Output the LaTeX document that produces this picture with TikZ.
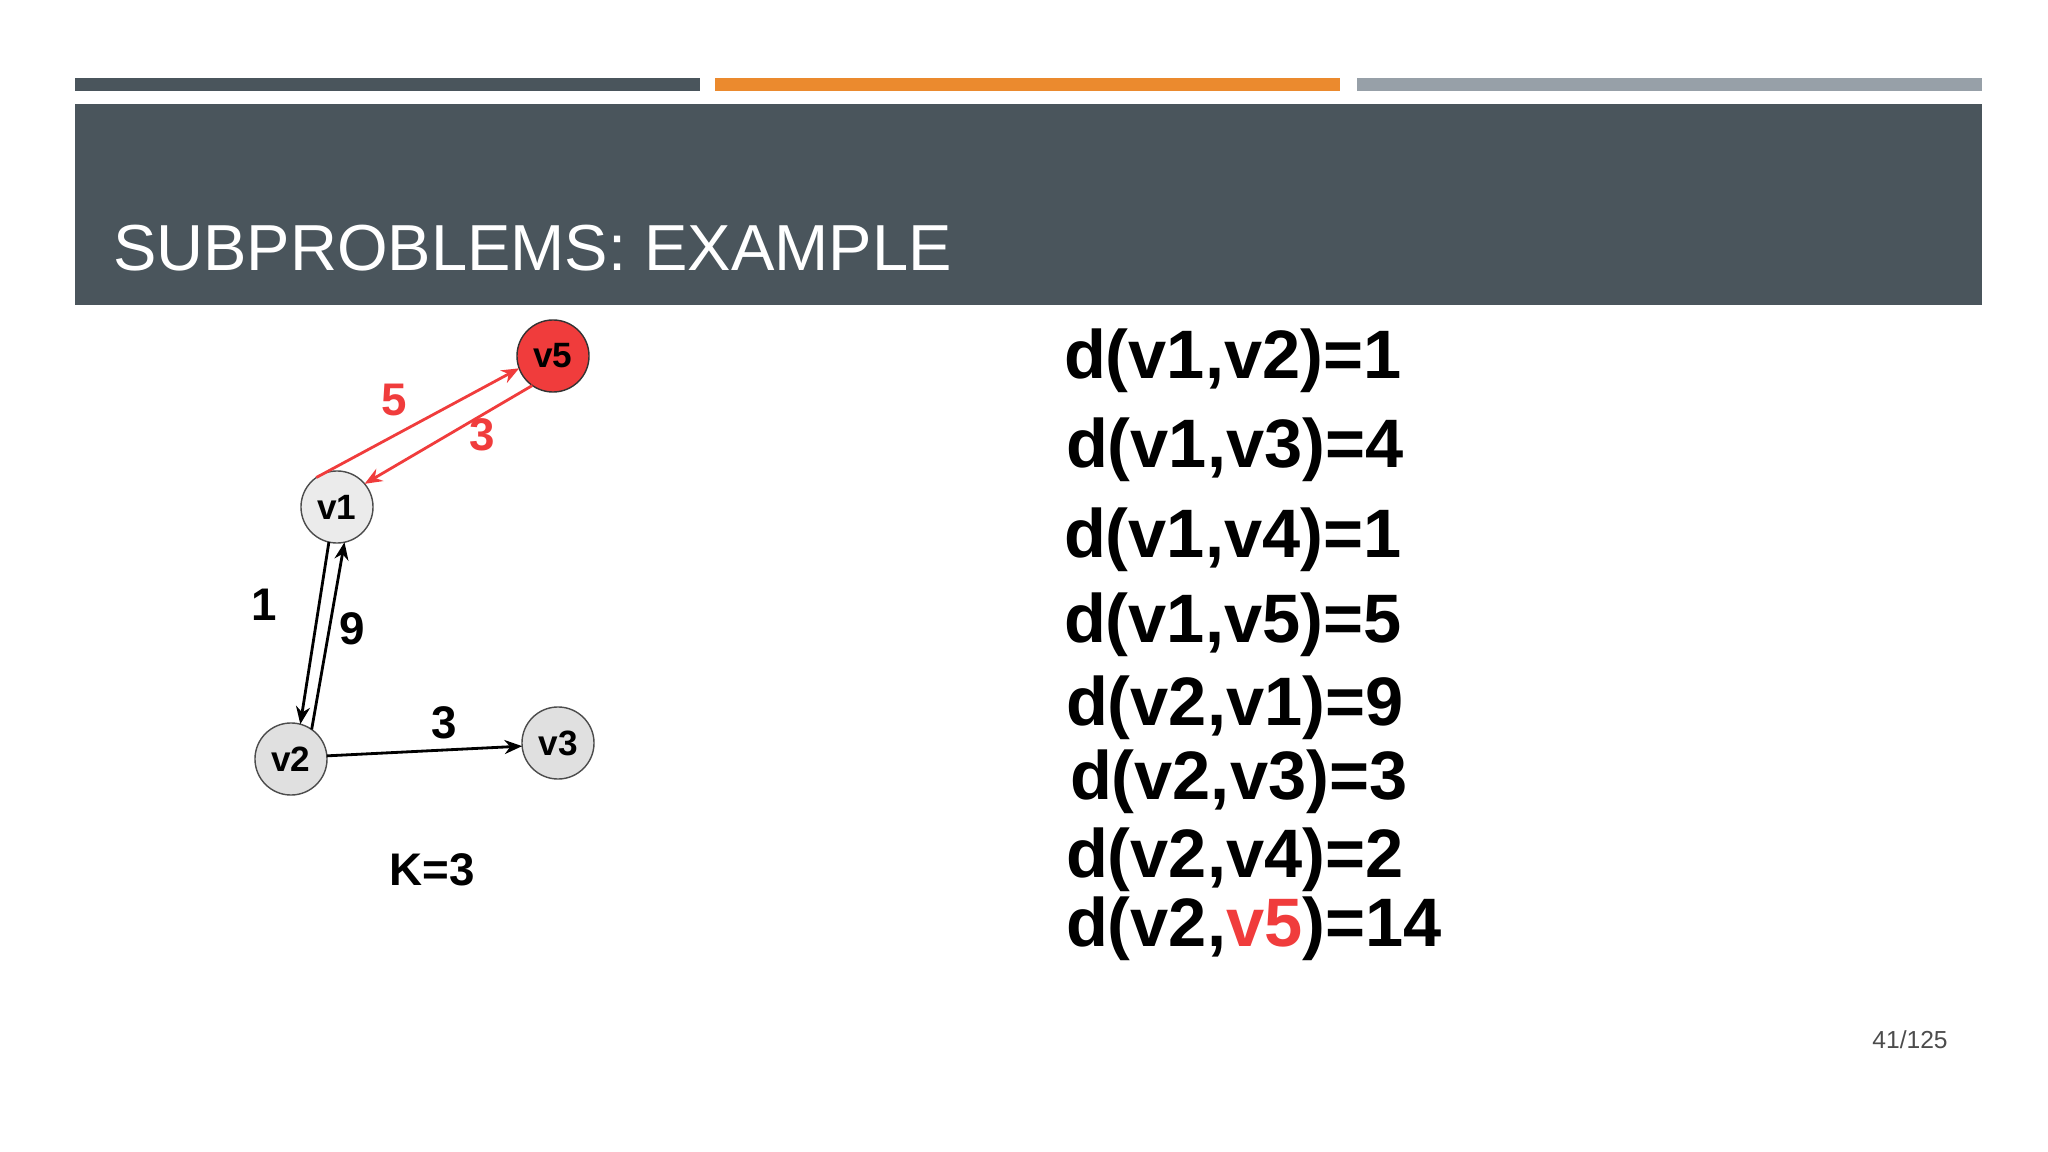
\documentclass[tikz,border=0pt]{standalone}
\usepackage{fontspec}
\setmainfont{Liberation Sans}
\usetikzlibrary{arrows.meta}
\definecolor{slate}{HTML}{4A555C}
\definecolor{tangerine}{HTML}{EB8A2E}
\definecolor{steel}{HTML}{97A0A8}
\definecolor{hot}{HTML}{F03C3C}
\begin{document}
\begin{tikzpicture}[x=0.01cm,y=-0.01cm,inner sep=0pt,outer sep=0pt,
vertex/.style={draw=black!70,circle,minimum size=0.72cm,fill=black!12,font=\bfseries\fontsize{10}{12}\selectfont},
dist/.style={anchor=west,font=\bfseries\fontsize{19.5}{22}\selectfont},
wlabel/.style={font=\bfseries\fontsize{13}{15}\selectfont},
edge/.style={->,thick,>={Stealth[length=5pt,width=4pt]}}]
\useasboundingbox (0,0) rectangle (2048,1152);
\fill[slate] (75,78) rectangle (700,91);
\fill[tangerine] (715,78) rectangle (1340,91);
\fill[steel] (1357,78) rectangle (1982,91);
\fill[slate] (75,104) rectangle (1982,305);
\node[anchor=west,text=white,font=\fontsize{18.5}{22}\selectfont] (title) at (113,248) {SUBPROBLEMS: EXAMPLE};

\node[vertex,fill=black!8] (v1) at (337,507) {v1};
\node[vertex] (v2) at (291,759) {v2};
\node[vertex] (v3) at (558,743) {v3};
\node[vertex,fill=hot,draw=black!80] (v5) at (553,356) {v5};

\draw[edge] (v1.257) -- (v2.75);
\draw[edge] (v2.55) -- (v1.282);
\draw[edge] (v2.5) -- (v3.185);
\draw[edge,hot] (v1.125) -- (v5.200);
\draw[edge,hot] (v5.235) -- (v1.40);

\node[wlabel,text=hot] (w15) at (394,400) {5};
\node[wlabel,text=hot] (w51) at (482,435) {3};
\node[wlabel] (w12) at (264,605) {1};
\node[wlabel] (w21) at (352,629) {9};
\node[wlabel] (w23) at (444,723) {3};
\node[wlabel] (k) at (432,870) {K=3};

\node[dist] (d12) at (1064,361) {d(v1,v2)=1};
\node[dist] (d13) at (1066,450) {d(v1,v3)=4};
\node[dist] (d14) at (1064,540) {d(v1,v4)=1};
\node[dist] (d15) at (1064,625) {d(v1,v5)=5};
\node[dist] (d21) at (1066,708) {d(v2,v1)=9};
\node[dist] (d23) at (1070,782) {d(v2,v3)=3};
\node[dist] (d24) at (1066,860) {d(v2,v4)=2};
\node[dist] (d25) at (1066,929) {d(v2,\textcolor{hot}{v5})=14};

\node[font=\fontsize{7}{8}\selectfont,text=black!70] (page) at (1910,1040) {41/125};
\end{tikzpicture}
\end{document}
